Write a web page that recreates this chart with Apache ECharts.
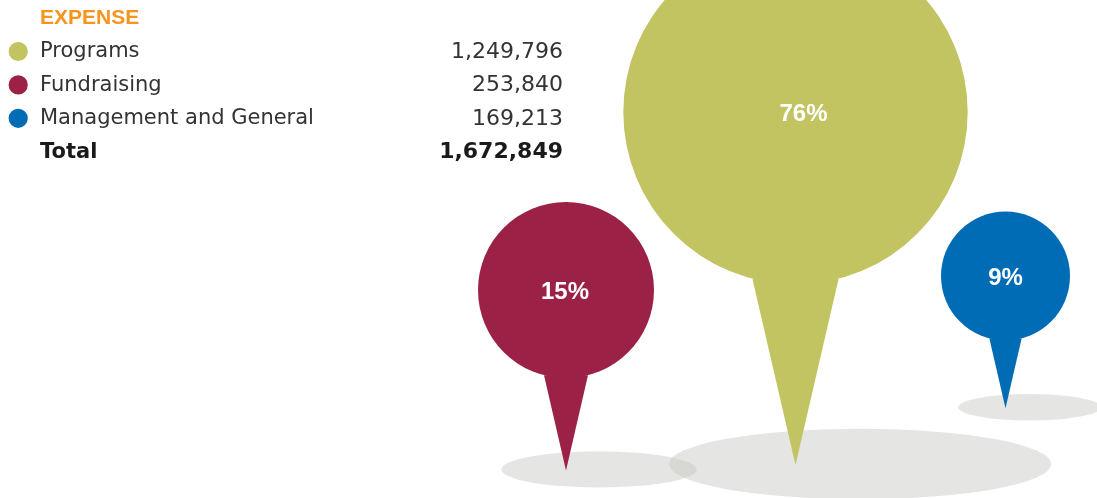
<!DOCTYPE html>
<html>
<head>
<meta charset="utf-8">
<title>Expense</title>
<style>
  html, body { margin: 0; padding: 0; background: #fff; }
  #chart { width: 1097px; height: 498px; }
</style>
<script src="https://cdn.jsdelivr.net/npm/echarts@6/dist/echarts.min.js"></script>
</head>
<body>
<div id="chart"></div>
<script>
// data
var title = 'EXPENSE';
var categories = ['Programs', 'Fundraising', 'Management and General'];
var amounts = [1249796, 253840, 169213];
var percents = [76, 15, 9];
var totalLabel = 'Total';

// pins from left to right
var pinOrder = ['Fundraising', 'Programs', 'Management and General'];

// look
var colors = ['#c1c461', '#9b2246', '#006cb5'];
var pinRadius = [172.2, 88, 64.5];
var pinCenterY = [112, 290, 276];
var pinNudgeX = [9.75, 0, 0];
var labelNudgeX = [8, -1, 0];
var textFont = '"DejaVu Sans", sans-serif';

var total = amounts.reduce(function (a, b) { return a + b; }, 0);
var fmt = echarts.format.addCommas;

// table on the left
var rowY = function (i) { return 52 + i * 33.4; };
var elements = [{
  type: 'text', left: 40, top: 8,
  style: { text: title, fill: '#f7941d', font: 'bold 21px "Liberation Sans"' }
}];
categories.forEach(function (name, i) {
  elements.push({ type: 'circle', shape: { cx: 18.2, cy: rowY(i) - 0.5, r: 9.6 }, style: { fill: colors[i] } });
  elements.push({
    type: 'text', x: 40, y: rowY(i),
    style: { text: name, fill: '#333', font: '21px ' + textFont, verticalAlign: 'middle' }
  });
  elements.push({
    type: 'text', x: 563, y: rowY(i),
    style: { text: fmt(amounts[i]), fill: '#333', font: '22px ' + textFont, align: 'right', verticalAlign: 'middle' }
  });
});
elements.push({
  type: 'text', x: 40, y: rowY(3),
  style: { text: totalLabel, fill: '#1a1a1a', font: 'bold 21px ' + textFont, verticalAlign: 'middle' }
});
elements.push({
  type: 'text', x: 563, y: rowY(3),
  style: { text: fmt(total), fill: '#1a1a1a', font: 'bold 22px ' + textFont, align: 'right', verticalAlign: 'middle' }
});

function pinGeom(i, api) {
  var r = pinRadius[i];
  var x = api.coord([api.value(0), 0])[0] + pinNudgeX[i];
  return { r: r, x: x, y: pinCenterY[i] };
}

function renderPin(i) {
  return function (params, api) {
    var g = pinGeom(i, api);
    var r = g.r, x = g.x, y = g.y;
    return {
      type: 'group',
      children: [
        { type: 'circle', shape: { cx: x, cy: y, r: r }, style: { fill: colors[i] } },
        {
          type: 'polygon',
          shape: { points: [[x - 0.25 * r, y + 0.97 * r], [x + 0.25 * r, y + 0.97 * r], [x, y + 2.05 * r]] },
          style: { fill: colors[i] }
        },
        {
          type: 'text', x: x + labelNudgeX[i], y: y + 2,
          style: {
            text: percents[i] + '%', fill: '#fff', font: 'bold 24px "Liberation Sans"',
            align: 'center', verticalAlign: 'middle'
          }
        }
      ]
    };
  };
}

// ground shadows under every pin
function renderShadow(params, api) {
  var i = params.dataIndex;
  var g = pinGeom(i, api);
  var rx = 1.11 * g.r, ry = 0.205 * g.r;
  return {
    type: 'circle',
    x: g.x + 0.375 * g.r, y: g.y + 2.05 * g.r - 1,
    scaleY: ry / rx,
    shape: { cx: 0, cy: 0, r: rx },
    style: { fill: '#c6c7c1', opacity: 0.45 }
  };
}

var series = [{
  type: 'custom',
  name: 'shadow',
  z: 1,
  renderItem: renderShadow,
  data: categories.map(function (c, i) { return [c, amounts[i]]; })
}];
categories.forEach(function (c, i) {
  series.push({
    type: 'custom',
    name: c,
    z: 2,
    renderItem: renderPin(i),
    data: [[c, amounts[i]]]
  });
});

var chart = echarts.init(document.getElementById('chart'));
chart.setOption({
  animation: false,
  backgroundColor: '#fff',
  grid: { left: 566, width: 439.5, top: 0, bottom: 0, outerBoundsMode: 'none' },
  xAxis: { type: 'category', data: pinOrder, boundaryGap: false, show: false },
  yAxis: { type: 'value', show: false },
  graphic: { elements: elements },
  series: series
});
</script>
</body>
</html>
